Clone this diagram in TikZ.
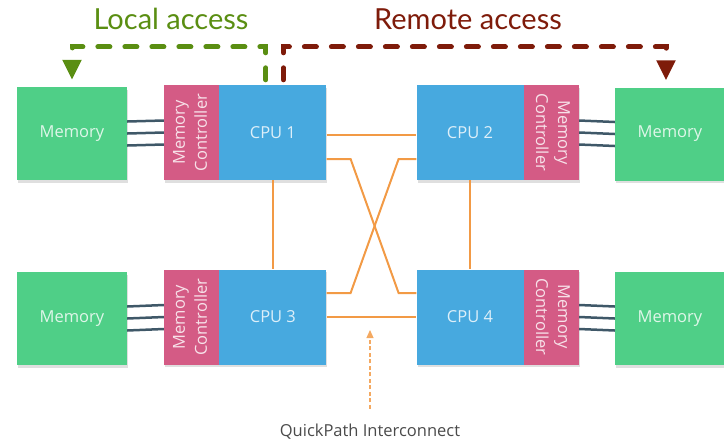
\documentclass[tikz,border=0pt]{standalone}
\usepackage{fontspec}
\setmainfont{Open Sans}
\newfontfamily\titlefont{Lato}
\usetikzlibrary{arrows.meta,positioning,shadows,calc}

\definecolor{memgreen}{HTML}{4FCF87}
\definecolor{ctrlpink}{HTML}{D45B85}
\definecolor{cpublue}{HTML}{47A9DF}
\definecolor{qpiorange}{HTML}{F29A45}
\definecolor{busgray}{HTML}{3F5868}
\definecolor{localgreen}{HTML}{5A8E12}
\definecolor{remotered}{HTML}{7E1B0A}
\definecolor{labelgray}{HTML}{4A4A4A}

\begin{document}
\begin{tikzpicture}[x=1pt, y=-1pt,
		box/.style = {rectangle, inner sep=0pt, minimum height=95pt, text=white,
				text opacity=0.82, font=\fontsize{16.5}{22}\selectfont,
				drop shadow={shadow xshift=1pt, shadow yshift=-2.5pt, opacity=0.25}},
		memory/.style = {box, fill=memgreen, minimum width=110pt, minimum height=93pt},
		cpu/.style = {box, fill=cpublue, minimum width=107pt},
		ctrl/.style = {box, fill=ctrlpink, minimum width=55pt},
		bus/.style = {draw=busgray, line width=2.5pt},
		link/.style = {draw=qpiorange, line width=2pt},
		access/.style = {line width=5pt, dash pattern=on 12pt off 15pt, line cap=round,
				-{Triangle[width=18pt,length=20pt]}, shorten >=7pt, shorten <=5pt},
		qpiarrow/.style = {draw=qpiorange!85!white, line width=1.2pt,
				dash pattern=on 4pt off 2.5pt, -{Triangle[width=7pt,length=8pt]}},
		title/.style = {font=\titlefont\fontsize{29}{30}\selectfont}
	]
	\useasboundingbox (0,0) rectangle (724,440);

	% Nodes
	\node [memory] (mem1) at (72,133.5) {Memory};
	\node [ctrl] (mc1) at (191.5,132.5)
	{\rotatebox{90}{\begin{tabular}{@{}c@{}}Memory\\Controller\end{tabular}}};
	\node [cpu, right=0pt of mc1] (cpu1) {CPU 1};

	\node [cpu] (cpu2) at (470,132.5) {CPU 2};
	\node [ctrl, right=0pt of cpu2] (mc2)
	{\rotatebox{-90}{\begin{tabular}{@{}c@{}}Memory\\Controller\end{tabular}}};
	\node [memory] (mem2) at (670,134) {Memory};

	\node [memory] (mem3) at (72,318.5) {Memory};
	\node [ctrl] (mc3) at (191.5,317)
	{\rotatebox{90}{\begin{tabular}{@{}c@{}}Memory\\Controller\end{tabular}}};
	\node [cpu, right=0pt of mc3] (cpu3) {CPU 3};

	\node [cpu] (cpu4) at (470,317) {CPU 4};
	\node [ctrl, right=0pt of cpu4] (mc4)
	{\rotatebox{-90}{\begin{tabular}{@{}c@{}}Memory\\Controller\end{tabular}}};
	\node [memory] (mem4) at (670,318.5) {Memory};

	% Memory buses
	\foreach \dy in {-12,0,12} {
			\draw [bus] ([yshift=\dy pt]mem1.east) -- ([yshift=\dy pt]mc1.west);
			\draw [bus] ([yshift=\dy pt]mc2.east) -- ([yshift=\dy pt]mem2.west);
			\draw [bus] ([yshift=\dy pt]mem3.east) -- ([yshift=\dy pt]mc3.west);
			\draw [bus] ([yshift=\dy pt]mc4.east) -- ([yshift=\dy pt]mem4.west);
		}

	% QuickPath links
	\draw [link] ([yshift=-2.5pt]cpu1.east) -- ([yshift=-2.5pt]cpu2.west);
	\draw [link] (cpu3.east) -- (cpu4.west);
	\draw [link] (cpu1) -- (cpu3);
	\draw [link] (cpu2) -- (cpu4);
	\draw [link] ([yshift=-26.5pt]cpu1.east) -- ++(24,0) -- ++(48,134)
	-- ([yshift=24pt]cpu4.west);
	\draw [link] ([yshift=24pt]cpu3.east) -- ++(24,0) -- ++(48,-134)
	-- ([yshift=-26.5pt]cpu2.west);

	\node [text=labelgray, font=\fontsize{16.5}{18}\selectfont] (qpi) at (370,432)
	{QuickPath Interconnect};
	\coordinate (qpitip) at (370,330);
	\draw [qpiarrow] ([yshift=12pt]qpi.north) -- (qpitip);

	% Access paths
	\node [title, text=localgreen] (local) at (171,19) {Local access};
	\node [title, text=remotered] (remote) at (468,19) {Remote access};

	\draw [access, draw=localgreen] ([xshift=-7pt]cpu1.north)
	-- ++(0,-38) -| (mem1.north);
	\draw [access, draw=remotered] ([xshift=10.5pt]cpu1.north)
	-- ++(0,-38) -| ([xshift=-4pt]mem2.north);
\end{tikzpicture}
\end{document}
